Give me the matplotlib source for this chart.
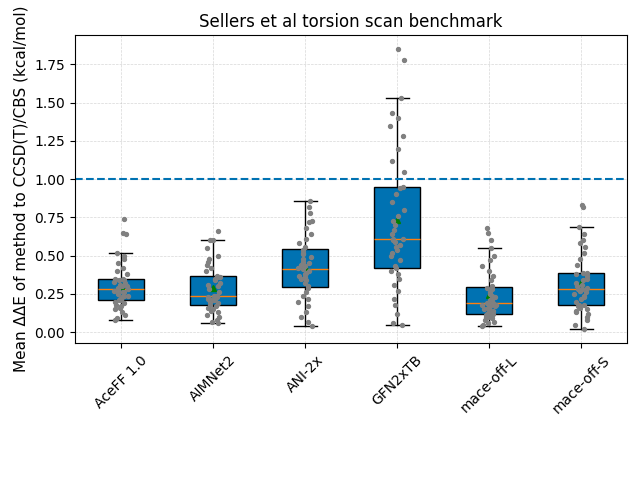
import numpy as np
import matplotlib.pyplot as plt

methods = ["AceFF 1.0", "AIMNet2", "ANI-2x", "GFN2xTB", "mace-off-L", "mace-off-S"]

aceff = [0.08, 0.09, 0.11, 0.13, 0.15, 0.16, 0.17, 0.18, 0.19, 0.20,
         0.21, 0.21, 0.22, 0.23, 0.24, 0.24, 0.25, 0.26, 0.26, 0.27,
         0.27, 0.28, 0.28, 0.29, 0.30, 0.30, 0.31, 0.32, 0.33, 0.34,
         0.34, 0.35, 0.35, 0.38, 0.40, 0.42, 0.45, 0.48, 0.50, 0.52,
         0.64, 0.65, 0.74]
aimnet = [0.06, 0.07, 0.08, 0.10, 0.11, 0.13, 0.14, 0.15, 0.16, 0.17,
          0.18, 0.19, 0.20, 0.21, 0.21, 0.22, 0.22, 0.23, 0.23, 0.24,
          0.24, 0.26, 0.28, 0.30, 0.31, 0.32, 0.34, 0.35, 0.36, 0.36,
          0.37, 0.40, 0.42, 0.44, 0.46, 0.48, 0.50, 0.55, 0.60, 0.60,
          0.66]
ani = [0.04, 0.07, 0.10, 0.13, 0.17, 0.20, 0.22, 0.24, 0.26, 0.29,
       0.30, 0.32, 0.34, 0.35, 0.36, 0.37, 0.38, 0.39, 0.40, 0.41,
       0.42, 0.43, 0.44, 0.45, 0.46, 0.48, 0.49, 0.51, 0.52, 0.54,
       0.56, 0.58, 0.61, 0.64, 0.68, 0.72, 0.73, 0.78, 0.82, 0.86]
gfn = [0.05, 0.06, 0.12, 0.18, 0.22, 0.27, 0.31, 0.35, 0.38, 0.40,
       0.42, 0.43, 0.47, 0.50, 0.52, 0.54, 0.56, 0.57, 0.59, 0.60,
       0.61, 0.61, 0.64, 0.67, 0.70, 0.73, 0.76, 0.80, 0.85, 0.90,
       0.94, 0.95, 1.05, 1.12, 1.20, 1.28, 1.35, 1.40, 1.43, 1.53,
       1.78, 1.85]
mace_l = [0.04, 0.05, 0.06, 0.07, 0.08, 0.09, 0.10, 0.10, 0.11, 0.11,
          0.12, 0.12, 0.13, 0.14, 0.15, 0.15, 0.16, 0.17, 0.17, 0.18,
          0.18, 0.19, 0.19, 0.20, 0.21, 0.22, 0.23, 0.24, 0.25, 0.26,
          0.28, 0.29, 0.30, 0.34, 0.37, 0.40, 0.43, 0.47, 0.50, 0.55,
          0.60, 0.65, 0.68]
mace_s = [0.02, 0.05, 0.08, 0.10, 0.12, 0.13, 0.14, 0.15, 0.16, 0.17,
          0.18, 0.18, 0.20, 0.22, 0.23, 0.24, 0.25, 0.26, 0.27, 0.27,
          0.28, 0.28, 0.29, 0.30, 0.31, 0.32, 0.34, 0.35, 0.37, 0.38,
          0.39, 0.39, 0.44, 0.48, 0.52, 0.56, 0.58, 0.60, 0.64, 0.69,
          0.82, 0.83]
data = [aceff, aimnet, ani, gfn, mace_l, mace_s]

blue = "#0072B2"
fig, ax = plt.subplots(figsize=(6.4, 4.8))
fig.subplots_adjust(left=0.117, right=0.98, top=0.927, bottom=0.285)
ax.grid(True, linestyle="--", linewidth=0.5, alpha=0.5)
ax.set_axisbelow(True)
ax.boxplot(data, patch_artist=True, showfliers=False, showmeans=True,
           boxprops=dict(facecolor=blue),
           meanprops=dict(marker="^", markerfacecolor="green", markeredgecolor="green", markersize=5))
rng = np.random.default_rng(3)
for i, vals in enumerate(data):
    x = i + 1 + rng.uniform(-0.08, 0.08, len(vals))
    ax.scatter(x, vals, s=8, color="gray", zorder=3)
ax.axhline(1.0, color=blue, linestyle="--", linewidth=1.5)
ax.set_xticks(range(1, 7))
ax.set_xticklabels(methods, rotation=45)
ax.set_title("Sellers et al torsion scan benchmark")
ax.set_xlabel("method", labelpad=48)
ax.set_ylabel("Mean ΔΔE of method to CCSD(T)/CBS (kcal/mol)", fontsize=11)
fig.savefig("out.png", dpi=100)
